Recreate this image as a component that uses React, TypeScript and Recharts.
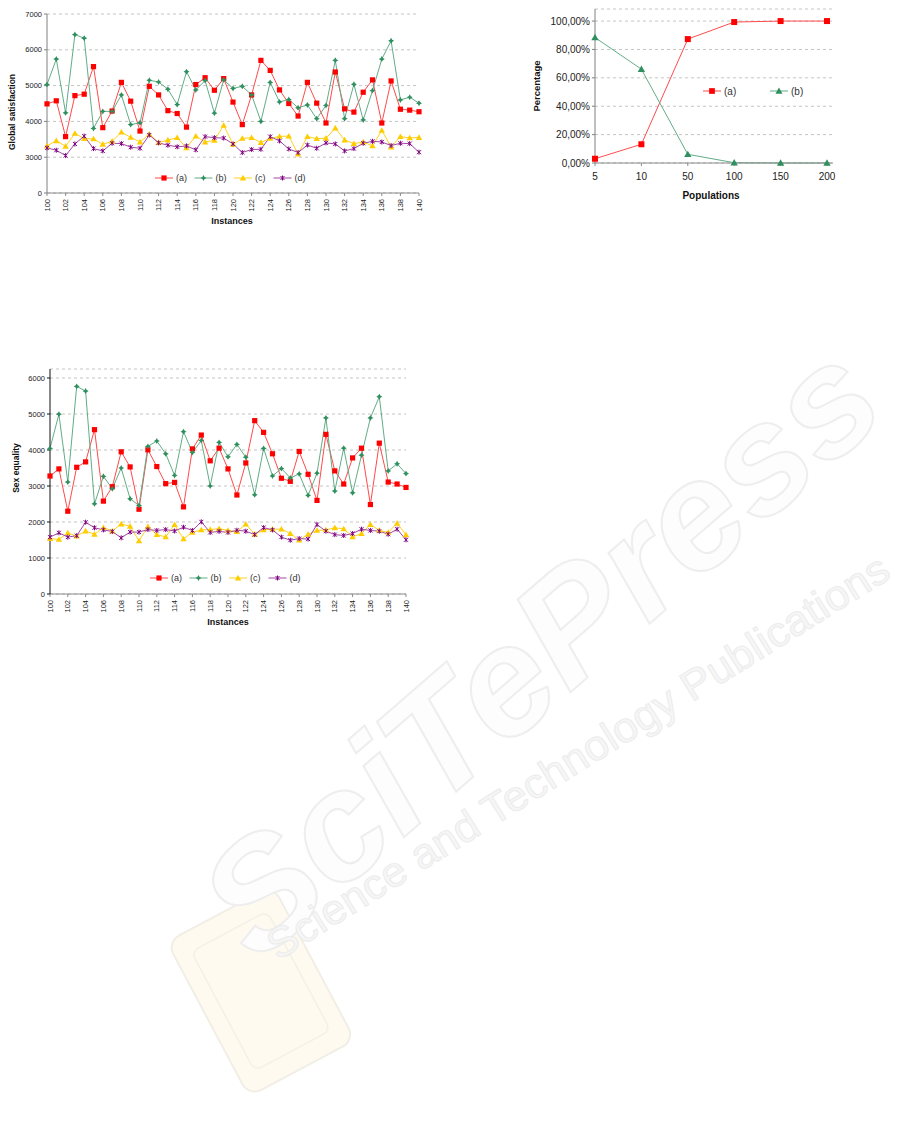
import React from 'react';
import { LineChart, Line, XAxis, YAxis, CartesianGrid, Legend } from 'recharts';

// instances shared by the two top/bottom-left charts
const instances = [
  100, 101, 102, 103, 104, 105, 106, 107, 108, 109, 110, 111, 112, 113, 114, 115, 116, 117, 118, 119, 120,
  121, 122, 123, 124, 125, 126, 127, 128, 129, 130, 131, 132, 133, 134, 135, 136, 137, 138, 139, 140,
];
const instanceTicks = [100, 102, 104, 106, 108, 110, 112, 114, 116, 118, 120, 122, 124, 126, 128, 130, 132, 134, 136, 138, 140];

// Global satisfaction
const gsA = [
  4490, 4575, 3575, 4720, 4760, 5530, 3825, 4290, 5090, 4565, 3730, 4980, 4740, 4300,
  4220, 3840, 5030, 5220, 4870, 5195, 4540, 3910, 4740, 5705, 5425, 4880, 4500,
  4150, 5090, 4510, 3955, 5380, 4350, 4260, 4815, 5160, 3955, 5130, 4340, 4315, 4270,
];
const gsB = [
  5030, 5740, 4240, 6425, 6325, 3805, 4280, 4280, 4740, 3910, 3960, 5150, 5100, 4900,
  4470, 5390, 4880, 5140, 4230, 5160, 4920, 4980, 4740, 4000, 5090, 4545, 4610,
  4380, 4460, 4075, 4445, 5705, 4075, 5035, 4040, 4860, 5740, 6250, 4600, 4675, 4510,
];
const gsC = [
  3315, 3460, 3305, 3665, 3520, 3510, 3360, 3445, 3700, 3555, 3425, 3640, 3410, 3480,
  3545, 3260, 3590, 3425, 3470, 3890, 3360, 3525, 3545, 3410, 3525, 3580, 3590,
  3085, 3575, 3520, 3530, 3815, 3480, 3380, 3425, 3315, 3750, 3285, 3575, 3540, 3550,
];
const gsD = [
  3260, 3195, 3045, 3370, 3590, 3240, 3175, 3390, 3380, 3280, 3250, 3620, 3400, 3335,
  3290, 3315, 3205, 3575, 3545, 3535, 3370, 3130, 3215, 3220, 3575, 3455, 3230,
  3130, 3340, 3250, 3400, 3370, 3175, 3240, 3390, 3445, 3425, 3325, 3390, 3380, 3140,
];
// broken axis: the bottom tick (2000) is printed as 0
const gsTicks = [2000, 3000, 4000, 5000, 6000, 7000];

// Sex equality
const seA = [
  3278, 3475, 2300, 3520, 3670, 4565, 2580, 2980, 3950, 3530, 2355, 4005, 3540, 3065,
  3100, 2420, 4030, 4415, 3700, 4050, 3475, 2750, 3640, 4815, 4490, 3895, 3215,
  3130, 3960, 3325, 2600, 4435, 3420, 3055, 3780, 4050, 2485, 4190, 3110, 3055, 2960,
];
const seB = [
  4043, 4994, 3110, 5767, 5637, 2505, 3270, 2925, 3500, 2645, 2460, 4100, 4250, 3895,
  3295, 4510, 3930, 4265, 3000, 4210, 3810, 4155, 3800, 2755, 4045, 3280, 3485,
  3225, 3335, 2740, 3355, 4890, 2860, 4050, 2810, 3855, 4890, 5480, 3420, 3615, 3345,
];
const seC = [
  1540, 1515, 1697, 1605, 1750, 1660, 1845, 1750, 1945, 1880, 1475, 1870, 1650, 1585, 1925, 1530, 1715, 1780, 1790, 1815,
  1765, 1730, 1940, 1660, 1780, 1800, 1800, 1680, 1495, 1660, 1765, 1780, 1840, 1810, 1590, 1680, 1930, 1765, 1710, 1965, 1645,
];
const seD = [
  1580, 1700, 1580, 1620, 1995, 1840, 1780, 1735, 1560, 1720, 1720, 1790, 1765, 1790, 1750, 1855, 1765, 2005, 1710, 1740,
  1710, 1770, 1745, 1650, 1845, 1780, 1580, 1495, 1540, 1525, 1930, 1745, 1650, 1625, 1680, 1800, 1765, 1745, 1660, 1800, 1505,
];
const seTicks = [0, 1000, 2000, 3000, 4000, 5000, 6000];

// Populations
const populations = ['5', '10', '50', '100', '150', '200'];
const popA = [0.03, 0.132, 0.873, 0.993, 1, 1];
const popB = [0.884, 0.661, 0.061, 0.002, 0, 0];
const popTicks = [0, 0.2, 0.4, 0.6, 0.8, 1];

const gsData = instances.map((inst, i) => ({ inst, a: gsA[i], b: gsB[i], c: gsC[i], d: gsD[i] }));
const seData = instances.map((inst, i) => ({ inst, a: seA[i], b: seB[i], c: seC[i], d: seD[i] }));
const popData = populations.map((pop, i) => ({ pop, a: popA[i], b: popB[i] }));

const FONT = '"Liberation Sans", Arial, sans-serif';

const COLORS = {
  aLine: '#ff4a4a', aMark: '#ff0000',
  bLine: '#62ad88', bMark: '#2f8f5e',
  cLine: '#ffd21f', cMark: '#ffcc00',
  dLine: '#a347a3', dMark: '#800080',
};

function Marker({ shape, color, cx, cy, s = 1 }: any) {
  if (cx == null || cy == null || isNaN(cx) || isNaN(cy)) return null;
  if (shape === 'square') {
    const h = 2.6 * s;
    return <rect x={cx - h} y={cy - h} width={2 * h} height={2 * h} fill={color} />;
  }
  if (shape === 'star') {
    const r = 3 * s, q = 1.1 * s;
    return (
      <path
        d={`M${cx},${cy - r}L${cx + q},${cy - q}L${cx + r},${cy}L${cx + q},${cy + q}L${cx},${cy + r}L${cx - q},${cy + q}L${cx - r},${cy}L${cx - q},${cy - q}Z`}
        fill={color}
      />
    );
  }
  if (shape === 'triangle') {
    const r = 3.2 * s;
    return <path d={`M${cx},${cy - r}L${cx + r},${cy + r * 0.75}L${cx - r},${cy + r * 0.75}Z`} fill={color} />;
  }
  // purple cross-star
  return (
    <g stroke={color} strokeWidth={1}>
      <line x1={cx - 2} y1={cy - 2} x2={cx + 2} y2={cy + 2} />
      <line x1={cx - 2} y1={cy + 2} x2={cx + 2} y2={cy - 2} />
      <line x1={cx} y1={cy - 2.5} x2={cx} y2={cy + 2.5} />
    </g>
  );
}

const dotFn = (name: string, shape: string, color: string, s = 1) => (p: any) => (
  <Marker key={`${name}-${p.index}`} shape={shape} color={color} cx={p.cx} cy={p.cy} s={s} />
);

function LegendRow({ items, gap, fontSize = 9, s = 1 }: any) {
  return (
    <svg width={gap * items.length} height={14} style={{ display: 'block', overflow: 'visible' }}>
      {items.map((it: any, k: number) => (
        <g key={it.label} transform={`translate(${k * gap},0)`}>
          <line x1={0} x2={18} y1={7} y2={7} stroke={it.line} strokeWidth={1} />
          <Marker shape={it.shape} color={it.mark} cx={9} cy={7} s={s} />
          <text x={21} y={7} dy="0.35em" fontSize={fontSize} fontFamily={FONT} fill="#333">
            {it.label}
          </text>
        </g>
      ))}
    </svg>
  );
}

const fourSeries = [
  { label: '(a)', line: COLORS.aLine, mark: COLORS.aMark, shape: 'square' },
  { label: '(b)', line: COLORS.bLine, mark: COLORS.bMark, shape: 'star' },
  { label: '(c)', line: COLORS.cLine, mark: COLORS.cMark, shape: 'triangle' },
  { label: '(d)', line: COLORS.dLine, mark: COLORS.dMark, shape: 'cross' },
];
const twoSeries = [
  { label: '(a)', line: COLORS.aLine, mark: COLORS.aMark, shape: 'square' },
  { label: '(b)', line: COLORS.bLine, mark: COLORS.bMark, shape: 'triangle' },
];

const RotTick = ({ x, y, payload }: any) => (
  <text
    x={x}
    y={y}
    transform={`rotate(-90 ${x} ${y})`}
    textAnchor="end"
    dy="0.35em"
    fontSize={7.5}
    fontFamily={FONT}
    fill="#222"
  >
    {payload.value}
  </text>
);

const AxisTitle = ({ x, y, text, rotate, size }: any) => (
  <div
    style={{
      position: 'absolute',
      left: x,
      top: y,
      transform: `translate(-50%, -50%)${rotate ? ' rotate(-90deg)' : ''}`,
      fontFamily: FONT,
      fontWeight: 'bold',
      fontSize: size,
      whiteSpace: 'nowrap',
      color: '#111',
      lineHeight: 1,
    }}
  >
    {text}
  </div>
);

function InstanceChart({ data, top, width, height, margin, yWidth, domain, ticks, fmt, axisColor, legendLeft, legendTop }: any) {
  return (
    <div style={{ position: 'absolute', left: 0, top }}>
      <LineChart width={width} height={height} data={data} margin={margin}>
        <CartesianGrid vertical={false} strokeDasharray="3 3" stroke="#c4c4c4" />
        <XAxis
          dataKey="inst"
          type="number"
          domain={[100, 140]}
          ticks={instanceTicks}
          interval={0}
          height={30}
          tick={<RotTick />}
          tickSize={3}
          tickMargin={3}
          stroke="#8a8a8a"
        />
        <XAxis xAxisId="top" orientation="top" dataKey="inst" type="number" domain={[100, 140]} height={0} tick={false} tickLine={false} stroke="#a8a8a8" />
        <YAxis
          type="number"
          domain={domain}
          ticks={ticks}
          interval={0}
          width={yWidth}
          tickFormatter={fmt}
          tick={{ fontSize: 7.5, fontFamily: FONT, fill: '#222' }}
          tickSize={3}
          tickMargin={2}
          stroke={axisColor}
          allowDataOverflow
        />
        <YAxis yAxisId="r" orientation="right" domain={domain} width={0} tick={false} tickLine={false} stroke="#a8a8a8" />
        <Legend
          layout="horizontal"
          verticalAlign="middle"
          align="center"
          wrapperStyle={{ left: legendLeft, top: legendTop, width: 'auto' }}
          content={() => <LegendRow items={fourSeries} gap={39.5} fontSize={9} />}
        />
        <Line type="linear" dataKey="a" stroke={COLORS.aLine} strokeWidth={1} dot={dotFn('a', 'square', COLORS.aMark)} activeDot={false} isAnimationActive={false} />
        <Line type="linear" dataKey="b" stroke={COLORS.bLine} strokeWidth={1} dot={dotFn('b', 'star', COLORS.bMark)} activeDot={false} isAnimationActive={false} />
        <Line type="linear" dataKey="c" stroke={COLORS.cLine} strokeWidth={1} dot={dotFn('c', 'triangle', COLORS.cMark)} activeDot={false} isAnimationActive={false} />
        <Line type="linear" dataKey="d" stroke={COLORS.dLine} strokeWidth={1} dot={dotFn('d', 'cross', COLORS.dMark)} activeDot={false} isAnimationActive={false} />
      </LineChart>
    </div>
  );
}

const pctFmt = (v: number) => `${(v * 100).toFixed(2).replace('.', ',')}%`;

// faint publisher watermark behind the charts
function Watermark() {
  return (
    <svg width={915} height={1142} style={{ position: 'absolute', left: 0, top: 0, pointerEvents: 'none' }}>
      <g transform="rotate(-28 260 1000)">
        <rect x={205} y={905} width={120} height={175} rx={14} fill="#fffaf0" stroke="#f1eee6" strokeWidth={2} />
        <rect x={222} y={925} width={86} height={135} rx={8} fill="none" stroke="#f3f0e8" strokeWidth={1.5} />
      </g>
      <g transform="translate(540,650) rotate(-41)">
        <text
          x={0}
          y={52}
          textAnchor="middle"
          fontFamily={FONT}
          fontSize={152}
          fontWeight="bold"
          fontStyle="italic"
          fill="#fdfdfd"
          stroke="#eeeeee"
          strokeWidth={2}
          textLength={840}
          lengthAdjust="spacingAndGlyphs"
        >
          SciTePress
        </text>
      </g>
      <g transform="translate(578,757) rotate(-32)">
        <text
          x={0}
          y={14}
          textAnchor="middle"
          fontFamily={FONT}
          fontSize={42}
          fill="#f6f6f6"
          stroke="#ececec"
          strokeWidth={1}
          textLength={725}
          lengthAdjust="spacingAndGlyphs"
        >
          Science and Technology Publications
        </text>
      </g>
    </svg>
  );
}

export default function App() {
  return (
    <div style={{ position: 'absolute', left: 0, top: 0, width: 915, height: 1142, background: '#fff', fontFamily: FONT }}>
      <Watermark />

      {/* Global satisfaction */}
      <InstanceChart
        data={gsData}
        top={0}
        width={430}
        height={230}
        margin={{ top: 14, right: 11, bottom: 7, left: 0 }}
        yWidth={47}
        domain={[2000, 7000]}
        ticks={gsTicks}
        fmt={(v: number) => (v === 2000 ? '0' : String(v))}
        axisColor="#808080"
        legendLeft={155}
        legendTop={171}
      />
      <AxisTitle x={12} y={112} text="Global satisfaction" rotate size={8.5} />
      <AxisTitle x={232} y={221} text="Instances" size={9} />

      {/* Sex equality */}
      <InstanceChart
        data={seData}
        top={360}
        width={420}
        height={270}
        margin={{ top: 9, right: 14, bottom: 6, left: 0 }}
        yWidth={50}
        domain={[0, 6250]}
        ticks={seTicks}
        fmt={(v: number) => String(v)}
        axisColor="#111"
        legendLeft={150}
        legendTop={211}
      />
      <AxisTitle x={16} y={468} text="Sex equality" rotate size={8.5} />
      <AxisTitle x={228} y={622} text="Instances" size={9} />

      {/* Populations */}
      <div style={{ position: 'absolute', left: 540, top: 0 }}>
        <LineChart width={310} height={210} data={popData} margin={{ top: 9, right: 17, bottom: 7, left: 0 }}>
          <CartesianGrid vertical={false} strokeDasharray="3 3" stroke="#c4c4c4" />
          <XAxis
            dataKey="pop"
            type="category"
            height={40}
            padding={{ left: 0, right: 6 }}
            interval={0}
            tick={{ fontSize: 10, fontFamily: FONT, fill: '#222' }}
            tickSize={3}
            tickMargin={7}
            stroke="#8a8a8a"
          />
          <XAxis xAxisId="top" orientation="top" dataKey="pop" height={0} padding={{ left: 0, right: 6 }} tick={false} tickLine={false} stroke="#a8a8a8" />
          <YAxis
            type="number"
            domain={[0, 1.085]}
            ticks={popTicks}
            interval={0}
            width={55}
            tickFormatter={pctFmt}
            tick={{ fontSize: 10, fontFamily: FONT, fill: '#222' }}
            tickSize={3}
            tickMargin={2}
            stroke="#808080"
          />
          <YAxis yAxisId="r" orientation="right" domain={[0, 1.085]} width={0} tick={false} tickLine={false} stroke="#a8a8a8" />
          <Legend
            layout="horizontal"
            verticalAlign="middle"
            align="center"
            wrapperStyle={{ left: 163, top: 84, width: 'auto' }}
            content={() => <LegendRow items={twoSeries} gap={67} fontSize={10} s={1.1} />}
          />
          <Line type="linear" dataKey="a" stroke={COLORS.aLine} strokeWidth={1} dot={dotFn('pa', 'square', COLORS.aMark, 1.15)} activeDot={false} isAnimationActive={false} />
          <Line type="linear" dataKey="b" stroke={COLORS.bLine} strokeWidth={1} dot={dotFn('pb', 'triangle', COLORS.bMark, 1.15)} activeDot={false} isAnimationActive={false} />
        </LineChart>
      </div>
      <AxisTitle x={537} y={86} text="Percentage" rotate size={9.5} />
      <AxisTitle x={711} y={196} text="Populations" size={10} />
    </div>
  );
}
